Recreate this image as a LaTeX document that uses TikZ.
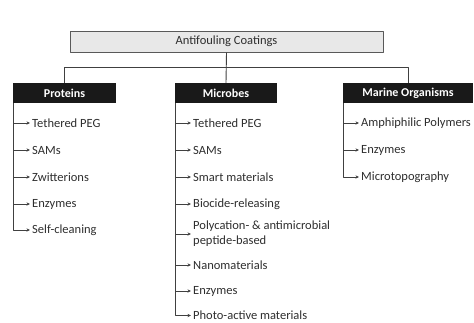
\documentclass[tikz,border=0pt]{standalone}
\usepackage{fontspec}
\setmainfont{Carlito}
\usetikzlibrary{calc,arrows.meta}
\begin{document}
\begin{tikzpicture}[x=1pt,y=-1pt,line join=round,>={Stealth[length=3.5pt,width=3.2pt]}]
    \tikzset{head style/.style={fill=black!90,text=white,font=\bfseries\fontsize{12}{13}\selectfont,minimum height=20pt,inner sep=0pt},
        item style/.style={anchor=west,inner xsep=2pt,inner ysep=0pt,text=black!82,font=\fontsize{12.5}{15}\selectfont,align=left},
        line style/.style={draw=black!75,line width=0.9pt}}
    \useasboundingbox (0,0) rectangle (474,322);
    %% top box and the three groups
    \node[draw=black!65,line width=1pt,fill=black!9,minimum width=313pt,minimum height=21pt,inner sep=0pt,text=black!82,font=\fontsize{12.5}{14}\selectfont] (root) at (226.5,41.5) {Antifouling Coatings};
    \node[head style,minimum width=103pt] (proteins) at (64.5,93) {Proteins};
    \node[head style,minimum width=102pt] (microbes) at (226,93) {Microbes};
    \node[head style,minimum width=130pt] (marine) at (408,93) {Marine Organisms};
    \coordinate (bar) at ($(root.south)!0.5!(microbes.north)$);
    \draw[line style] (root.south) -- (microbes.north);
    \draw[line style] (proteins.north) |- (bar) -| (marine.north);
    %% items
    \foreach \y/\t [count=\i] in {123/Tethered PEG,150/SAMs,177/Zwitterions,204/Enzymes,230/Self-cleaning}
        \node[item style] (p\i) at (30,\y) {\t};
    \foreach \y/\t [count=\i] in {123/Tethered PEG,150/SAMs,177/Smart materials,204/Biocide-releasing,234/{Polycation- \& antimicrobial\\peptide-based},265/Nanomaterials,291/Enzymes,315.5/Photo-active materials}
        \node[item style] (m\i) at (191,\y) {\t};
    \foreach \y/\t [count=\i] in {123/Amphiphilic Polymers,150/Enzymes,177/Microtopography}
        \node[item style] (o\i) at (359,\y) {\t};
    %% spines and arrows
    \foreach \h/\p/\n in {proteins/p/5,microbes/m/8,marine/o/3}{
        \coordinate (\p-top) at ($(\h.south west)+(1,0)$);
        \foreach \i in {1,...,\n}
            \draw[line style,->] (\p-top) |- (\p\i.west);
    }
\end{tikzpicture}
\end{document}
